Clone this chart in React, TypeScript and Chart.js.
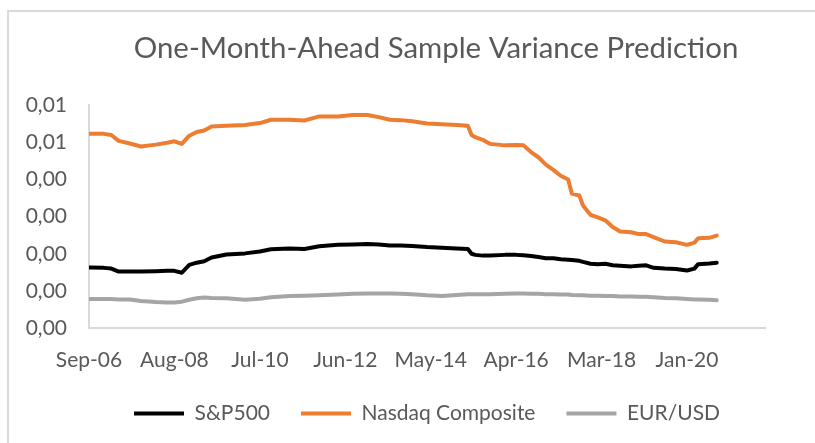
import React, { useEffect, useRef } from "react";
import { Chart, registerables } from "chart.js";

Chart.register(...registerables);

const TITLE = "One-Month-Ahead Sample Variance Prediction";
const X_TICK_MONTHS = [0, 23, 46, 69, 92, 115, 138, 161];
const X_TICK_LABELS = ["Sep-06", "Aug-08", "Jul-10", "Jun-12", "May-14", "Apr-16", "Mar-18", "Jan-20"];
const Y_TICKS = [0, 0.001, 0.002, 0.003, 0.004, 0.005, 0.006];
const Y_TICK_LABELS = ["0,00", "0,00", "0,00", "0,00", "0,00", "0,01", "0,01"];

const MONTHS = [0, 4, 6, 8, 11, 14, 18, 21, 23, 25, 27, 29, 31, 33, 37, 42, 46, 49, 54, 58, 62, 67, 71, 75, 78, 81, 84, 87, 91, 95, 99, 102, 103, 104, 106, 108, 112, 115, 117, 119, 121, 123, 125, 127, 129, 130, 132, 133, 135, 137, 139, 141, 143, 146, 148, 150, 152, 155, 158, 161, 163, 164, 167, 169];

const SP500 = [
  0.00163, 0.00162, 0.0016, 0.00152, 0.00152, 0.00152, 0.00153, 0.00154, 0.00154, 0.00149,
  0.0017, 0.00176, 0.0018, 0.0019, 0.00198, 0.00201, 0.00206, 0.00212, 0.00214, 0.00213,
  0.0022, 0.00224, 0.00225, 0.00226, 0.00225, 0.00222, 0.00222, 0.00221, 0.00218, 0.00216,
  0.00214, 0.00213, 0.002, 0.00197, 0.00195, 0.00195, 0.00197, 0.00197, 0.00196, 0.00194,
  0.00191, 0.00188, 0.00188, 0.00185, 0.00184, 0.00183, 0.00181, 0.00178, 0.00173, 0.00172,
  0.00173, 0.00169, 0.00168, 0.00166, 0.00168, 0.00169, 0.00162, 0.0016, 0.00159, 0.00155,
  0.0016, 0.00172, 0.00174, 0.00176,
];

const NASDAQ = [
  0.00523, 0.00523, 0.0052, 0.00504, 0.00497, 0.00489, 0.00494, 0.00499, 0.00503, 0.00496,
  0.00518, 0.00528, 0.00532, 0.00543, 0.00545, 0.00547, 0.00552, 0.00561, 0.00561, 0.00559,
  0.0057, 0.0057, 0.00574, 0.00574, 0.00568, 0.00561, 0.0056, 0.00557, 0.00551, 0.00549,
  0.00547, 0.00545, 0.0052, 0.00514, 0.00507, 0.00496, 0.00492, 0.00493, 0.00492, 0.00474,
  0.0046, 0.0044, 0.00426, 0.0041, 0.004, 0.00362, 0.00357, 0.0033, 0.00305, 0.00298,
  0.0029, 0.00272, 0.0026, 0.00258, 0.00253, 0.00253, 0.00245, 0.00233, 0.00231, 0.00224,
  0.0023, 0.00242, 0.00243, 0.00249,
];

const EURUSD = [
  0.00078, 0.00078, 0.00078, 0.00077, 0.00077, 0.00073, 0.0007, 0.00069, 0.00069, 0.00071,
  0.00076, 0.0008, 0.00082, 0.00081, 0.0008, 0.00076, 0.00079, 0.00083, 0.00086, 0.00087,
  0.00088, 0.0009, 0.00092, 0.00093, 0.00093, 0.00093, 0.00092, 0.00091, 0.00088, 0.00086,
  0.00089, 0.00091, 0.00091, 0.00091, 0.00091, 0.00091, 0.00092, 0.00093, 0.00093, 0.00092,
  0.00092, 0.00091, 0.00091, 0.0009, 0.0009, 0.00089, 0.00088, 0.00088, 0.00087, 0.00087,
  0.00086, 0.00086, 0.00085, 0.00085, 0.00084, 0.00084, 0.00083, 0.00081, 0.0008, 0.00078,
  0.00077, 0.00077, 0.00076, 0.00075,
];

const TEXT = "#595959";
const AXIS = "#D9D9D9";
const FONT = "Lato";

export default function App() {
  const ref = useRef<HTMLCanvasElement | null>(null);

  useEffect(() => {
    if (!ref.current) return;
    const toPts = (vals: number[]) => vals.map((v, i) => ({ x: MONTHS[i], y: v }));
    const chart = new Chart(ref.current, {
      type: "line",
      data: {
        datasets: [
          { label: "S&P500", data: toPts(SP500), borderColor: "#000000", backgroundColor: "#000000" },
          { label: "Nasdaq Composite", data: toPts(NASDAQ), borderColor: "#ED7D31", backgroundColor: "#ED7D31" },
          { label: "EUR/USD", data: toPts(EURUSD), borderColor: "#A5A5A5", backgroundColor: "#A5A5A5" },
        ],
      },
      options: {
        animation: false,
        responsive: true,
        maintainAspectRatio: false,
        elements: {
          line: { borderWidth: 4, tension: 0, borderJoinStyle: "round", borderCapStyle: "round" },
          point: { radius: 0, hoverRadius: 0 },
        },
        layout: { padding: { left: 0, right: 0, top: 0, bottom: 9 } },
        scales: {
          x: {
            type: "linear",
            min: 0,
            max: 182,
            afterBuildTicks: (scale: any) => {
              scale.ticks = X_TICK_MONTHS.map((v) => ({ value: v }));
            },
            afterFit: (scale: any) => {
              scale.height = 44;
            },
            ticks: {
              autoSkip: false,
              maxRotation: 0,
              padding: 20,
              color: TEXT,
              font: { family: FONT, size: 21 },
              callback: (v: any) => {
                const i = X_TICK_MONTHS.indexOf(Number(v));
                return i >= 0 ? X_TICK_LABELS[i] : "";
              },
            },
            grid: { display: false, drawTicks: false },
            border: { display: true, color: AXIS, width: 2 },
          },
          y: {
            type: "linear",
            min: 0,
            max: 0.006,
            afterBuildTicks: (scale: any) => {
              scale.ticks = Y_TICKS.map((v) => ({ value: v }));
            },
            afterFit: (scale: any) => {
              scale.width = 82;
            },
            ticks: {
              padding: 22,
              color: TEXT,
              font: { family: FONT, size: 21 },
              callback: (_v: any, i: number) => Y_TICK_LABELS[i],
            },
            grid: { display: false, drawTicks: false },
            border: { display: true, color: AXIS, width: 2 },
          },
          yRightSpace: {
            type: "linear",
            position: "right",
            display: true,
            afterFit: (scale: any) => {
              scale.width = 100;
            },
            ticks: { display: false },
            grid: { display: false, drawTicks: false },
            border: { display: false },
          },
        },
        plugins: {
          title: {
            display: true,
            text: TITLE,
            color: TEXT,
            font: { family: FONT, size: 29.4, weight: "normal" },
            padding: { top: 21, bottom: 39 },
          },
          legend: {
            display: true,
            position: "bottom",
            fullSize: false,
            labels: {
              color: TEXT,
              font: { family: FONT, size: 21 },
              boxWidth: 50,
              boxHeight: 4,
              padding: 31,
              generateLabels: (c: any) => {
                const items = Chart.defaults.plugins.legend.labels.generateLabels(c);
                return items.map((it: any) => ({ ...it, lineWidth: 0 }));
              },
            },
          },
          tooltip: { enabled: false },
        },
      },
    });
    return () => chart.destroy();
  }, []);

  return (
    <div style={{ position: "fixed", left: 0, top: 0, width: 815, height: 443, overflow: "hidden", background: "#fff" }}>
      <div style={{ position: "absolute", left: 7, top: 10, width: 858, height: 433 }}>
        <canvas ref={ref} />
      </div>
      <div
        style={{
          position: "absolute",
          left: 7,
          top: 10,
          width: 900,
          height: 500,
          borderLeft: "2px solid #DADADA",
          borderTop: "2px solid #DADADA",
          pointerEvents: "none",
        }}
      />
    </div>
  );
}
